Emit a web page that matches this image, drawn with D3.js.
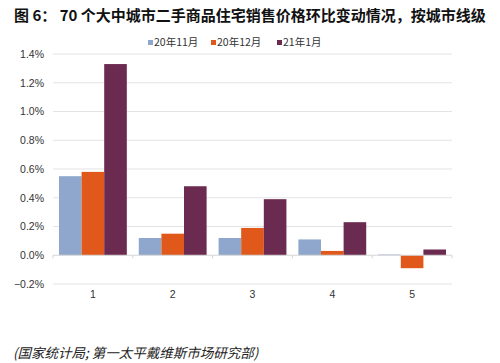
<!DOCTYPE html>
<html lang="zh">
<head>
<meta charset="utf-8" />
<script src="https://d3js.org/d3.v7.min.js"></script>
<style>
  body { margin: 0; background: #fff; }
  svg { font-family: "Liberation Sans", Arial, sans-serif; }
  .title { font-family: "Noto Sans CJK SC", sans-serif; font-weight: bold; font-size: 15px; fill: #111; }
  .cjk { font-family: "Noto Sans CJK SC", sans-serif; }
</style>
</head>
<body>
<div id="chart"></div>
<script>
const width = 500, height = 363;

const categories = ["1", "2", "3", "4", "5"];
const seriesNames = ["20年11月", "20年12月", "21年1月"];
const seriesColors = ["#8fa7cd", "#e0591a", "#6b2a4f"];
const nov20 = [0.55, 0.12, 0.12, 0.11, 0.005];
const dec20 = [0.58, 0.15, 0.19, 0.03, -0.09];
const jan21 = [1.33, 0.48, 0.39, 0.23, 0.04];
const yTicks = [-0.2, 0, 0.2, 0.4, 0.6, 0.8, 1.0, 1.2, 1.4];

const series = [nov20, dec20, jan21];

const svg = d3.select("#chart").append("svg")
  .attr("width", width).attr("height", height);

const x = d3.scaleBand().domain(categories).range([53, 452]).paddingInner(0.15).paddingOuter(0.075);
const xSub = d3.scaleBand().domain(d3.range(series.length)).range([0, x.bandwidth()]);
const y = d3.scaleLinear().domain([-0.2, 1.4]).range([284, 54]);

// title
svg.append("text").attr("class", "title").attr("x", 14).attr("y", 21)
  .text("图 6： 70 个大中城市二手商品住宅销售价格环比变动情况，按城市线级");

// gridlines
svg.append("g").selectAll("line").data(yTicks.filter(d => d !== 0)).join("line")
  .attr("x1", 53).attr("x2", 452)
  .attr("y1", d => y(d)).attr("y2", d => y(d))
  .attr("stroke", "#e3e3e3").attr("stroke-width", 1);

// y axis labels
const yAxis = d3.axisLeft(y).tickValues(yTicks).tickSize(0).tickPadding(0)
  .tickFormat(d => d3.format(".1f")(d) + "%");
svg.append("g").attr("transform", "translate(44,0)").call(yAxis)
  .call(g => g.select(".domain").remove())
  .call(g => g.selectAll("text").attr("font-size", 10.5).attr("fill", "#333")
    .attr("font-family", "Liberation Sans, Arial, sans-serif"));

// bars
const groups = svg.append("g").selectAll("g").data(categories).join("g")
  .attr("transform", d => `translate(${x(d)},0)`);
groups.selectAll("rect")
  .data((c, i) => series.map((s, k) => ({ k, v: s[i] })))
  .join("rect")
  .attr("x", d => xSub(d.k))
  .attr("width", xSub.bandwidth())
  .attr("y", d => y(Math.max(0, d.v)))
  .attr("height", d => Math.abs(y(d.v) - y(0)))
  .attr("fill", d => seriesColors[d.k]);

// zero axis with category ticks
svg.append("line").attr("x1", 53).attr("x2", 452).attr("y1", y(0)).attr("y2", y(0))
  .attr("stroke", "#d6d6d6");
svg.append("g").selectAll("line").data(d3.range(categories.length + 1)).join("line")
  .attr("x1", i => 53 + i * x.step()).attr("x2", i => 53 + i * x.step())
  .attr("y1", y(0)).attr("y2", y(0) + 3).attr("stroke", "#d6d6d6");

// x labels
svg.append("g").attr("transform", "translate(0,291)").call(d3.axisBottom(x).tickSize(0).tickPadding(0))
  .call(g => g.select(".domain").remove())
  .call(g => g.selectAll("text").attr("font-size", 10.5).attr("fill", "#333")
    .attr("font-family", "Liberation Sans, Arial, sans-serif"));

// legend
const legendX = [148, 211, 277];
const legend = svg.append("g").selectAll("g").data(seriesNames).join("g")
  .attr("transform", (d, i) => `translate(${legendX[i]},46)`);
legend.append("rect").attr("x", 0).attr("y", -6).attr("width", 5).attr("height", 5)
  .attr("fill", (d, i) => seriesColors[i]);
legend.append("text").attr("class", "cjk").attr("x", 6).attr("y", 0)
  .attr("font-size", 10.5).attr("fill", "#333").text(d => d);

// source
svg.append("text").attr("class", "cjk").attr("x", 13).attr("y", 358)
  .attr("font-size", 13.5).attr("font-style", "italic").attr("fill", "#222")
  .text("(国家统计局; 第一太平戴维斯市场研究部)");
</script>
</body>
</html>
